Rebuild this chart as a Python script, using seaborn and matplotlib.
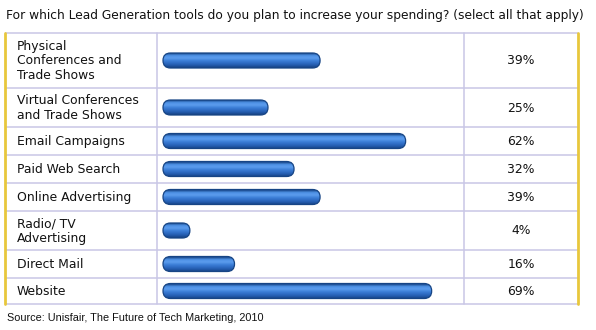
import matplotlib
matplotlib.use("Agg")
import matplotlib.pyplot as plt
import seaborn as sns
import pandas as pd
import numpy as np
from matplotlib.patches import FancyBboxPatch
from matplotlib.colors import LinearSegmentedColormap

# ---- data ----
categories = [
    "Physical\nConferences and\nTrade Shows",
    "Virtual Conferences\nand Trade Shows",
    "Email Campaigns",
    "Paid Web Search",
    "Online Advertising",
    "Radio/ TV\nAdvertising",
    "Direct Mail",
    "Website",
]
values = [39, 25, 62, 32, 39, 4, 16, 69]
value_labels = ["39%", "25%", "62%", "32%", "39%", "4%", "16%", "69%"]
title = "For which Lead Generation tools do you plan to increase your spending? (select all that apply)"
source = "Source: Unisfair, The Future of Tech Marketing, 2010"

# ---- layout (pixels) ----
W, H = 596, 330
row_edges = [33, 88, 127, 155, 183, 211, 250, 278, 304]
col_edges = [5, 157, 464, 578]
row_centers = [(a + b) / 2 for a, b in zip(row_edges[:-1], row_edges[1:])]
zero_px = 169.0
px_per_unit = 3.72
bar_h = 15.0
cap_px = 6.0

sns.set_theme(style="white")
plt.rcParams["font.family"] = ["DejaVu Sans"]

fig = plt.figure(figsize=(W / 100, H / 100), dpi=100)
fig.patch.set_facecolor("white")

bg = fig.add_axes([0, 0, 1, 1])
bg.set_xlim(0, W)
bg.set_ylim(H, 0)
bg.axis("off")

lav = "#c9c6e6"
gold = "#e8c73c"
for y in row_edges:
    bg.plot([col_edges[0], col_edges[-1]], [y, y], color=lav, lw=1.1, solid_capstyle="butt")
for x in col_edges[1:-1]:
    bg.plot([x, x], [row_edges[0], row_edges[-1]], color=lav, lw=1.1)
for x in (col_edges[0], col_edges[-1]):
    bg.plot([x, x], [row_edges[0], row_edges[-1]], color=gold, lw=2.0)

bg.text(6, 15, title, fontsize=8.85, color="#111111", va="center", ha="left")
bg.text(7, 318, source, fontsize=7.8, color="#111111", va="center", ha="left",
        family=["Liberation Sans", "DejaVu Sans"])

for lab, yc in zip(categories, row_centers):
    bg.text(17, yc + 0.5, lab, fontsize=8.9, color="#111111", va="center", ha="left",
            linespacing=1.18)
val_x = (col_edges[2] + col_edges[3]) / 2
for lab, yc in zip(value_labels, row_centers):
    bg.text(val_x, yc + 0.5, lab, fontsize=8.9, color="#111111", va="center", ha="center")

# ---- bars via seaborn ----
ax_left, ax_right = col_edges[1], col_edges[2]
ax_top, ax_bot = row_edges[0], row_edges[-1]
ax = fig.add_axes([ax_left / W, 1 - ax_bot / H, (ax_right - ax_left) / W, (ax_bot - ax_top) / H])
df = pd.DataFrame({"value": values, "center": row_centers})
sns.barplot(data=df, x="value", y="center", orient="h", native_scale=True,
            color="#3b7dd8", ax=ax, width=0.5)

xmin = (ax_left - zero_px) / px_per_unit
xmax = (ax_right - zero_px) / px_per_unit
aspect = px_per_unit  # y units (px) per x unit

cmap = LinearSegmentedColormap.from_list(
    "barg", ["#1b4a8e", "#4f92e6", "#5c9ced", "#3d80d8", "#2f6cc4", "#2158a8", "#163f7c"])
grad = np.linspace(0, 1, 64).reshape(-1, 1)

patches = list(ax.patches)
for p in patches:
    x0 = p.get_x()
    w = p.get_width()
    yc = p.get_y() + p.get_height() / 2
    p.set_visible(False)
    cap = cap_px / px_per_unit
    left = x0 - cap
    right = x0 + w + cap
    r = (bar_h / 2) / aspect
    fb = FancyBboxPatch((left, yc - bar_h / 2), right - left, bar_h,
                        boxstyle=f"round,pad=0,rounding_size={r}",
                        mutation_aspect=aspect,
                        facecolor="none", edgecolor="#174585", lw=0.9, zorder=4)
    ax.add_patch(fb)
    im = ax.imshow(grad, extent=[left, right, yc + bar_h / 2, yc - bar_h / 2],
                   aspect="auto", cmap=cmap, zorder=3, interpolation="bilinear")
    im.set_clip_path(fb)

ax.set_xlim(xmin, xmax)
ax.set_ylim(ax_bot, ax_top)
ax.axis("off")
ax.patch.set_alpha(0)

fig.savefig("out.png", dpi=100, facecolor="white")
